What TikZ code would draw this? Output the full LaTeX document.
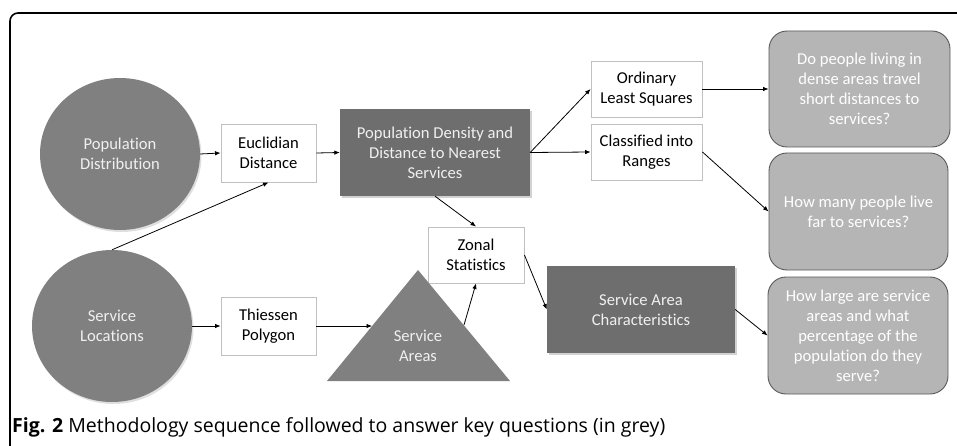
\documentclass[tikz,border=0pt]{standalone}
\usepackage{fontspec}
\setmainfont{Carlito}[Ligatures=NoCommon]
\newfontfamily\capfont{Open Sans}
\usetikzlibrary{arrows.meta,shapes.geometric,shadows}
\definecolor{circgrey}{HTML}{808080}
\definecolor{darkgrey}{HTML}{6E6E6E}
\definecolor{qgrey}{HTML}{B5B5B5}
\definecolor{qborder}{HTML}{5A5A5A}
\definecolor{boxborder}{HTML}{C0C0C0}
\definecolor{lighttext}{HTML}{F0F0F0}
\tikzset{
  txt/.style={font=\fontsize{16.6}{20}\selectfont, align=center},
  whitebox/.style={txt, draw=boxborder, line width=0.9pt, fill=white, text=black, minimum width=95pt, minimum height=57pt, inner sep=1pt},
  darkbox/.style={txt, fill=darkgrey, text=lighttext, inner sep=1pt, drop shadow={shadow xshift=1.5pt, shadow yshift=-2pt, opacity=0.35}},
  circ/.style={txt, ellipse, fill=circgrey, text=lighttext, minimum width=160pt, minimum height=152pt, inner sep=0pt, drop shadow={shadow xshift=1.5pt, shadow yshift=-2pt, opacity=0.25}},
  qbox/.style={txt, draw=qborder, line width=0.9pt, fill=qgrey, text=white, rounded corners=18pt, minimum width=180pt, minimum height=116pt, inner sep=1pt},
  conn/.style={-{Latex[length=5.5pt,width=4.5pt]}, line width=0.8pt, black}
}
\begin{document}
\begin{tikzpicture}[x=1pt,y=-1pt]
\useasboundingbox (0,0) rectangle (957,446);
\fill[white] (0,0) rectangle (957,446);
% frame
\draw[line width=1.6pt, rounded corners=8pt] (957,13) -- (10,13) -- (10,446);

% circles
\node[circ] (pd) at (120,154) {Population\\Distribution};
\node[circ] (sl) at (112,326) {Service\\Locations};

% white boxes
\node[whitebox, minimum width=95pt, minimum height=58pt] (ed) at (268.5,153) {Euclidian\\Distance};
\node[whitebox, minimum width=95pt, minimum height=58pt] (tp) at (268.5,326) {Thiessen\\Polygon};
\node[whitebox, minimum width=111pt, minimum height=56pt] (ols) at (646.5,89) {Ordinary\\Least Squares};
\node[whitebox, minimum width=111pt, minimum height=56pt] (cr) at (646.5,152) {Classified into\\Ranges};
\node[whitebox, minimum width=96pt, minimum height=56pt] (zs) at (476,255) {Zonal\\Statistics};

% dark boxes
\node[darkbox, minimum width=190pt, minimum height=87pt] (pdn) at (435,152.5) {Population Density and\\Distance to Nearest\\Services};
\node[darkbox, minimum width=188pt, minimum height=87pt] (sac) at (641,309.5) {Service Area\\Characteristics};

% triangle
\fill[circgrey] (327,381) -- (418,270) -- (510,381) -- cycle;
\node[txt, text=lighttext] (sa) at (418,346) {Service\\Areas};
\coordinate (saL) at (372,326);
\coordinate (saR) at (464,325);

% question boxes
\node[qbox, minimum width=181pt, minimum height=116pt] (q1) at (859.5,89) {Do people living in\\dense areas travel\\short distances to\\services?};
\node[qbox, minimum width=179pt, minimum height=117pt] (q2) at (858.5,211.5) {How many people live\\far to services?};
\node[qbox, minimum width=180pt, minimum height=117pt] (q3) at (858,335.5) {How large are service\\areas and what\\percentage of the\\population do they\\serve?};

% connectors
\draw[conn] (pd.east) -- (ed.west);
\draw[conn] (ed.east) -- (pdn.west);
\draw[conn] (sl.north) -- (ed.south);
\draw[conn] (pdn.east) -- (ols.west);
\draw[conn] (pdn.east) -- (cr.west);
\draw[conn] (pdn.south) -- (zs.north);
\draw[conn] (ols.east) -- (q1.west);
\draw[conn] (cr.east) -- (q2.west);
\draw[conn] (sl.east) -- (tp.west);
\draw[conn] (tp.east) -- (saL);
\draw[conn] (saR) -- (zs.south);
\draw[conn] (zs.east) -- (sac.west);
\draw[conn] (sac.east) -- (q3.west);

% caption
\node[anchor=base west, inner sep=0pt, text=black] (cap) at (12,432) {\resizebox{653pt}{!}{\capfont\fontsize{17}{20}\selectfont\textbf{Fig. 2} Methodology sequence followed to answer key questions (in grey)}};
\end{tikzpicture}
\end{document}
